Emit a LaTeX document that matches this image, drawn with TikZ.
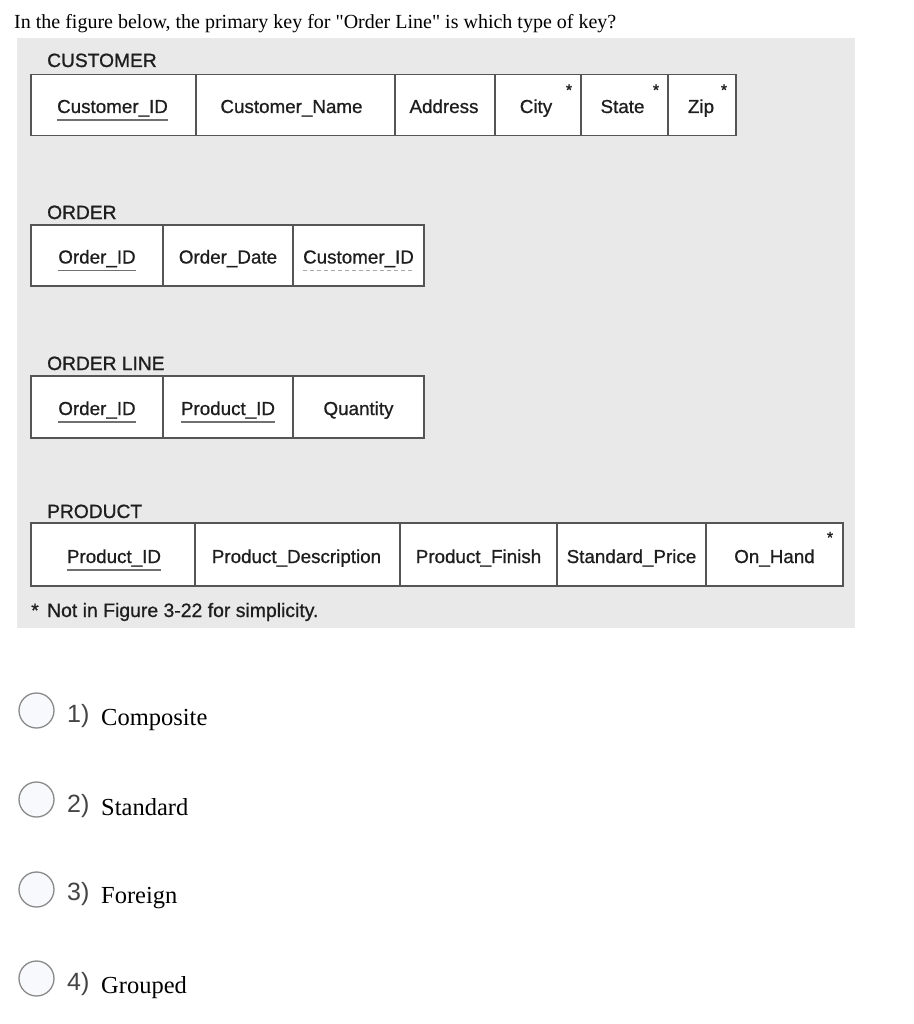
\documentclass[tikz,border=0pt]{standalone}
\usepackage{fontspec}
\setmainfont{Liberation Serif}
\newfontfamily\figfont{Liberation Sans}[FakeBold=0.8]
\newfontfamily\lblfont{Liberation Sans}[FakeBold=1.0]
\newfontfamily\optfont{Liberation Sans}
\usetikzlibrary{calc}
\definecolor{panelgray}{HTML}{E9E9E9}
\definecolor{bordergray}{HTML}{555555}
\definecolor{textdark}{HTML}{1E1E1E}
\definecolor{ulsolid}{HTML}{707070}
\definecolor{uldash}{HTML}{A8A8A8}
\definecolor{optgray}{HTML}{454545}
\definecolor{radiostroke}{HTML}{8A8A8A}
\definecolor{radiofill}{HTML}{F8F9FC}
\tikzset{
  cell/.style={draw=bordergray, line width=1.4pt, fill=white, inner sep=0pt, outer sep=0pt},
  ctext/.style={font=\figfont\fontsize{18.8}{20}\selectfont, text=textdark, inner sep=0pt, anchor=base},
  foottext/.style={font=\figfont\fontsize{19.4}{20}\selectfont, text=textdark, inner sep=0pt, anchor=base west},
  tlabel/.style={font=\lblfont\fontsize{19.2}{20}\selectfont, text=textdark, inner sep=0pt, anchor=base west},
  star/.style={font=\lblfont\fontsize{16}{16}\selectfont, text=textdark, inner sep=0pt, anchor=base},
  keyul/.style={draw=ulsolid, line width=1.5pt},
  fkul/.style={draw=uldash, line width=1.5pt, dash pattern=on 4pt off 3pt},
  radio/.style={circle, draw=radiostroke, fill=radiofill, line width=1.3pt, minimum size=35pt, inner sep=0pt},
  optnum/.style={font=\optfont\fontsize{25}{28}\selectfont, text=optgray, inner sep=0pt, anchor=base west},
  optword/.style={font=\fontsize{24.5}{28}\selectfont, text=black, inner sep=0pt, anchor=base west},
  question/.style={font=\fontsize{20}{22}\selectfont, text=black, inner sep=0pt, anchor=base west},
}
\begin{document}
\begin{tikzpicture}[x=1pt,y=-1pt]
\useasboundingbox (0,0) rectangle (913,1024);
\fill[white] (0,0) rectangle (913,1024);

% question
\node[question] (q) at (14,29) {In the figure below, the primary key for \textquotedbl Order Line\textquotedbl{} is which type of key?};

% panel
\fill[panelgray] (17,38) rectangle (855,628);

% CUSTOMER
\node[tlabel] (lcust) at (47,67) {CUSTOMER};
\node[cell, minimum width=165pt, minimum height=61pt] (cu1) at (113.5,105) {};
\node[cell, minimum width=199pt, minimum height=61pt] (cu2) at (295.5,105) {};
\node[cell, minimum width=100pt, minimum height=61pt] (cu3) at (445,105) {};
\node[cell, minimum width=86pt, minimum height=61pt] (cu4) at (538,105) {};
\node[cell, minimum width=87pt, minimum height=61pt] (cu5) at (624.5,105) {};
\node[cell, minimum width=68pt, minimum height=61pt] (cu6) at (702,105) {};
\node[ctext] (cu1t) at ($(cu1)+(-1,8)$) {Customer\_ID};
\node[ctext] (cu2t) at ($(cu2)+(-4,8)$) {Customer\_Name};
\node[ctext] (cu3t) at ($(cu3)+(-1,8)$) {Address};
\node[ctext] (cu4t) at ($(cu4)+(-2,8)$) {City};
\node[ctext] (cu5t) at ($(cu5)+(-2,8)$) {State};
\node[ctext] (cu6t) at ($(cu6)+(-1,8)$) {Zip};
\node[star] (cu4s) at ($(cu4.north east)+(-12,21)$) {*};
\node[star] (cu5s) at ($(cu5.north east)+(-12,21)$) {*};
\node[star] (cu6s) at ($(cu6.north east)+(-12,21)$) {*};
\draw[keyul] ($(cu1t.base west)+(0,7)$) -- ($(cu1t.base east)+(0,7)$);

% ORDER
\node[tlabel] (lord) at (47,219) {ORDER};
\node[cell, minimum width=132pt, minimum height=61pt] (or1) at (97,255.5) {};
\node[cell, minimum width=130pt, minimum height=61pt] (or2) at (228,255.5) {};
\node[cell, minimum width=131pt, minimum height=61pt] (or3) at (358.5,255.5) {};
\node[ctext] (or1t) at ($(or1)+(0,8)$) {Order\_ID};
\node[ctext] (or2t) at ($(or2)+(0,8)$) {Order\_Date};
\node[ctext] (or3t) at ($(or3)+(0,8)$) {Customer\_ID};
\draw[keyul] ($(or1t.base west)+(0,7)$) -- ($(or1t.base east)+(0,7)$);
\draw[fkul] ($(or3t.base west)+(0,7)$) -- ($(or3t.base east)+(0,7)$);

% ORDER LINE
\node[tlabel] (lol) at (47,370) {ORDER LINE};
\node[cell, minimum width=132pt, minimum height=62pt] (ol1) at (97,407) {};
\node[cell, minimum width=130pt, minimum height=62pt] (ol2) at (228,407) {};
\node[cell, minimum width=131pt, minimum height=62pt] (ol3) at (358.5,407) {};
\node[ctext] (ol1t) at ($(ol1)+(0,8)$) {Order\_ID};
\node[ctext] (ol2t) at ($(ol2)+(0,8)$) {Product\_ID};
\node[ctext] (ol3t) at ($(ol3)+(0,8)$) {Quantity};
\draw[keyul] ($(ol1t.base west)+(0,7)$) -- ($(ol1t.base east)+(0,7)$);
\draw[keyul] ($(ol2t.base west)+(0,7)$) -- ($(ol2t.base east)+(0,7)$);

% PRODUCT
\node[tlabel] (lprod) at (47,518) {PRODUCT};
\node[cell, minimum width=164pt, minimum height=63pt] (pr1) at (113,554.5) {};
\node[cell, minimum width=205pt, minimum height=63pt] (pr2) at (297.5,554.5) {};
\node[cell, minimum width=157pt, minimum height=63pt] (pr3) at (478.5,554.5) {};
\node[cell, minimum width=149pt, minimum height=63pt] (pr4) at (631.5,554.5) {};
\node[cell, minimum width=137pt, minimum height=63pt] (pr5) at (774.5,554.5) {};
\node[ctext] (pr1t) at ($(pr1)+(1,8.5)$) {Product\_ID};
\node[ctext] (pr2t) at ($(pr2)+(-1,8.5)$) {Product\_Description};
\node[ctext] (pr3t) at ($(pr3)+(0,8.5)$) {Product\_Finish};
\node[ctext] (pr4t) at ($(pr4)+(0,8.5)$) {Standard\_Price};
\node[ctext] (pr5t) at ($(pr5)+(0,8.5)$) {On\_Hand};
\node[star] (pr5s) at ($(pr5.north east)+(-13,20)$) {*};
\draw[keyul] ($(pr1t.base west)+(0,7)$) -- ($(pr1t.base east)+(0,7)$);

% footnote
\node[foottext] (foot) at (31,617) {*\hspace{3pt} Not in Figure 3-22 for simplicity.};

% options
\node[radio] (r1) at (36.5,710.5) {};
\node[radio] (r2) at (36.5,799.5) {};
\node[radio] (r3) at (36.5,889.5) {};
\node[radio] (r4) at (36.5,978.5) {};
\node[optnum] (n1) at (67,722) {1)};
\node[optnum] (n2) at (67,812) {2)};
\node[optnum] (n3) at (67,900) {3)};
\node[optnum] (n4) at (67,990) {4)};
\node[optword] (w1) at (101,725) {Composite};
\node[optword] (w2) at (101,815) {Standard};
\node[optword] (w3) at (101,903) {Foreign};
\node[optword] (w4) at (101,993) {Grouped};
\end{tikzpicture}
\end{document}
